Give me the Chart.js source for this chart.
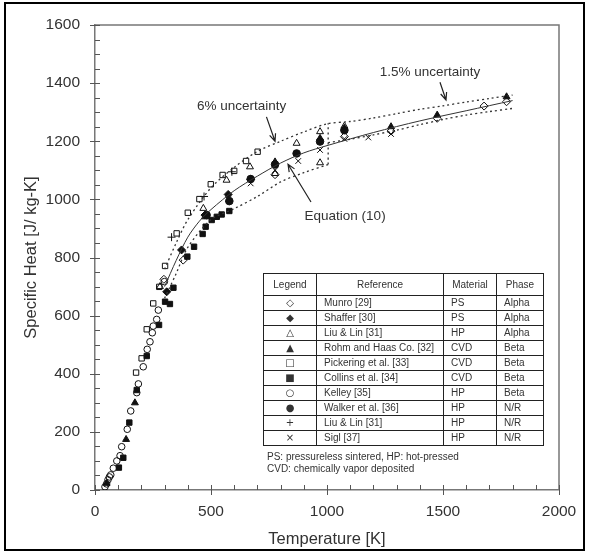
<!DOCTYPE html>
<html>
<head>
<meta charset="utf-8">
<script src="https://cdn.jsdelivr.net/npm/chart.js@4.4.0/dist/chart.umd.min.js"></script>
<style>
html, body { margin: 0; padding: 0; background: #fff; }
#wrap { position: relative; width: 589px; height: 554px; font-family: "Liberation Sans", Arial, sans-serif; }
#frame { position: absolute; left: 4px; top: 2px; width: 577px; height: 545px; border: 2px solid #000; }
#cv { position: absolute; left: 0; top: 0; }
#legendTable { position: absolute; left: 263px; top: 273px; border-collapse: collapse; font-size: 10px; color: #333; border: 1.5px solid #222; }
#legendTable td, #legendTable th { border: 1px solid #222; padding: 0 7px; height: 14px; line-height: 14px; font-weight: normal; white-space: nowrap; }
#legendTable th { height: 21px; text-align: center; }
#legendTable td.sym { text-align: center; font-family: "DejaVu Sans", sans-serif; font-size: 10px; }
#notes { position: absolute; left: 267px; top: 451px; font-size: 10px; color: #333; line-height: 12px; }
</style>
</head>
<body>
<div id="wrap">
  <canvas id="cv" width="589" height="554"></canvas>
  <div id="frame"></div>
  <table id="legendTable"></table>
  <div id="notes">PS: pressureless sintered, HP: hot-pressed<br>CVD: chemically vapor deposited</div>
</div>
<script>
// data (T in K, cp in J/kg-K)
const munroT = [297, 380, 776, 1075, 1276, 1475, 1677, 1774];
const munroCp = [725, 791, 1085, 1216, 1235, 1279, 1321, 1336];

const shafferT = [309, 373, 474, 574, 671];
const shafferCp = [682, 826, 946, 1017, 1069];

const liuAlphaT = [280, 467, 567, 668, 776, 869, 970, 970, 1075];
const liuAlphaCp = [700, 969, 1066, 1112, 1089, 1193, 1233, 1126, 1252];

const rohmT = [50, 134, 172, 474, 776, 970, 1075, 1276, 1475, 1774];
const rohmCp = [23, 174, 300, 940, 1129, 1210, 1245, 1250, 1290, 1353];

const pickeringT = [177, 201, 223, 251, 277, 302, 352, 400, 450, 499, 550, 600, 651, 701];
const pickeringCp = [404, 453, 553, 642, 699, 771, 883, 954, 1001, 1052, 1084, 1098, 1132, 1164];

const collinsT = [103, 122, 148, 180, 223, 276, 302, 323, 338, 398, 427, 464, 477, 503, 525, 546, 579];
const collinsCp = [77, 111, 232, 344, 461, 568, 648, 640, 696, 803, 837, 881, 906, 929, 940, 948, 960];

const kelleyT = [43, 50, 56, 62, 68, 79, 94, 108, 115, 139, 154, 180, 187, 208, 225, 237, 247, 251, 266, 273, 299];
const kelleyCp = [11, 21, 35, 45, 52, 75, 100, 118, 149, 209, 272, 335, 365, 424, 484, 510, 541, 564, 587, 619, 717];

const walkerT = [481, 579, 671, 776, 869, 970, 1075];
const walkerCp = [946, 994, 1070, 1120, 1158, 1199, 1238];

const liuNrT = [330, 470, 590];
const liuNrCp = [870, 1010, 1095];

const siglT = [574, 671, 776, 876, 970, 1075, 1178, 1276];
const siglCp = [1001, 1055, 1100, 1132, 1170, 1208, 1213, 1225];

// Equation (10) and the uncertainty bands, as drawn
const eqT = [300, 350, 400, 450, 500, 600, 700, 800, 900, 1000, 1200, 1400, 1600, 1800];
const eqCp = [700, 790, 870, 925, 965, 1030, 1080, 1125, 1160, 1185, 1230, 1270, 1305, 1340];

const upperT = [300, 350, 400, 500, 600, 700, 800, 900, 1000, 1100, 1200, 1300, 1400, 1500, 1600, 1700, 1800];
const upperCp = [760, 850, 930, 1040, 1110, 1165, 1200, 1232, 1260, 1268, 1280, 1295, 1310, 1322, 1335, 1347, 1359];

const lower6T = [300, 350, 400, 500, 600, 700, 800, 900, 1005];
const lower6Cp = [660, 745, 835, 930, 968, 1010, 1060, 1092, 1120];

const boxT = [1005, 1005];
const boxCp = [1120, 1262];

const lower15T = [1005, 1100, 1200, 1300, 1400, 1500, 1600, 1700, 1800];
const lower15Cp = [1195, 1207, 1222, 1238, 1257, 1275, 1290, 1302, 1313];

const legendRows = [
  ['\u25C7', 'Munro [29]', 'PS', 'Alpha'],
  ['\u25C6', 'Shaffer [30]', 'PS', 'Alpha'],
  ['\u25B3', 'Liu & Lin [31]', 'HP', 'Alpha'],
  ['\u25B2', 'Rohm and Haas Co. [32]', 'CVD', 'Beta'],
  ['\u25A1', 'Pickering et al. [33]', 'CVD', 'Beta'],
  ['\u25A0', 'Collins et al. [34]', 'CVD', 'Beta'],
  ['\u25CB', 'Kelley [35]', 'HP', 'Beta'],
  ['\u25CF', 'Walker et al. [36]', 'HP', 'N/R'],
  ['+', 'Liu & Lin [31]', 'HP', 'N/R'],
  ['\u00D7', 'Sigl [37]', 'HP', 'N/R']
];

// annotations in data units: text, text position, arrow from -> to
const notes = [
  { text: '6% uncertainty', x: 632, y: 1321, from: [739, 1284], to: [776, 1200] },
  { text: '1.5% uncertainty', x: 1444, y: 1439, from: [1487, 1403], to: [1513, 1342] },
  { text: 'Equation (10)', x: 1078, y: 943, from: [931, 991], to: [832, 1121] }
];

function pts(xs, ys) {
  return xs.map((x, i) => ({ x: x, y: ys[i] }));
}

function marks(data, style, filled, radius) {
  return {
    data: data,
    showLine: false,
    pointStyle: style,
    pointRadius: radius,
    pointBorderWidth: 1,
    borderColor: '#111',
    backgroundColor: filled ? '#111' : 'rgba(0,0,0,0)',
    pointBorderColor: '#111',
    pointBackgroundColor: filled ? '#111' : 'rgba(0,0,0,0)'
  };
}

function curve(data, dashed) {
  return {
    data: data,
    showLine: true,
    pointRadius: 0,
    borderColor: '#333',
    borderWidth: dashed ? 1.3 : 1,
    borderDash: dashed ? [2, 3] : [],
    tension: 0.3
  };
}

// build the legend table
const tbl = document.getElementById('legendTable');
let html = '<tr><th style="width:38px">Legend</th><th style="width:112px">Reference</th><th style="width:38px">Material</th><th style="width:32px">Phase</th></tr>';
legendRows.forEach(r => {
  html += '<tr><td class="sym">' + r[0] + '</td><td>' + r[1].replace('&', '&amp;') + '</td><td>' + r[2] + '</td><td>' + r[3] + '</td></tr>';
});
tbl.innerHTML = html;

// inward tick marks, top/right frame, annotations
const extras = {
  id: 'extras',
  beforeDatasetsDraw(chart) {
    const ctx = chart.ctx;
    const a = chart.chartArea;
    const xs = chart.scales.x, ys = chart.scales.y;
    ctx.save();
    ctx.strokeStyle = '#777';
    ctx.lineWidth = 1.5;
    ctx.beginPath();
    ctx.moveTo(a.left, a.top);
    ctx.lineTo(a.right, a.top);
    ctx.lineTo(a.right, a.bottom);
    ctx.stroke();
    ctx.lineWidth = 1;
    ctx.strokeStyle = '#555';
    ctx.beginPath();
    for (let v = xs.min; v <= xs.max; v += 100) {
      const px = Math.round(xs.getPixelForValue(v)) + 0.5;
      const major = v % 500 === 0;
      ctx.moveTo(px, a.bottom - 5);
      ctx.lineTo(px, major ? a.bottom + 5 : a.bottom);
    }
    for (let v = ys.min; v <= ys.max; v += 50) {
      const py = Math.round(ys.getPixelForValue(v)) + 0.5;
      const major = v % 200 === 0;
      ctx.moveTo(major ? a.left - 5 : a.left, py);
      ctx.lineTo(a.left + 5, py);
    }
    ctx.stroke();
    ctx.restore();
  },
  afterDatasetsDraw(chart) {
    const ctx = chart.ctx;
    const xs = chart.scales.x, ys = chart.scales.y;
    ctx.save();
    ctx.fillStyle = '#333';
    ctx.strokeStyle = '#222';
    ctx.lineWidth = 1.2;
    ctx.font = '13.5px "Liberation Sans", Arial, sans-serif';
    ctx.textAlign = 'center';
    ctx.textBaseline = 'middle';
    notes.forEach(n => {
      ctx.fillText(n.text, xs.getPixelForValue(n.x), ys.getPixelForValue(n.y));
      const x1 = xs.getPixelForValue(n.from[0]), y1 = ys.getPixelForValue(n.from[1]);
      const x2 = xs.getPixelForValue(n.to[0]), y2 = ys.getPixelForValue(n.to[1]);
      const ang = Math.atan2(y2 - y1, x2 - x1);
      ctx.beginPath();
      ctx.moveTo(x1, y1);
      ctx.lineTo(x2, y2);
      ctx.moveTo(x2 - 8 * Math.cos(ang - 0.4), y2 - 8 * Math.sin(ang - 0.4));
      ctx.lineTo(x2, y2);
      ctx.lineTo(x2 - 8 * Math.cos(ang + 0.4), y2 - 8 * Math.sin(ang + 0.4));
      ctx.stroke();
    });
    ctx.restore();
  }
};

const tickFont = { family: '"Liberation Sans", Arial, sans-serif', size: 15.5 };
const titleFont = { family: '"Liberation Sans", Arial, sans-serif', size: 16.5 };

new Chart(document.getElementById('cv'), {
  type: 'scatter',
  data: {
    datasets: [
      curve(pts(eqT, eqCp), false),
      curve(pts(upperT, upperCp), true),
      curve(pts(lower6T, lower6Cp), true),
      curve(pts(boxT, boxCp), true),
      curve(pts(lower15T, lower15Cp), true),
      marks(pts(kelleyT, kelleyCp), 'circle', false, 3.3),
      marks(pts(collinsT, collinsCp), 'rect', true, 3.8),
      marks(pts(pickeringT, pickeringCp), 'rect', false, 3.8),
      marks(pts(liuAlphaT, liuAlphaCp), 'triangle', false, 4),
      marks(pts(munroT, munroCp), 'rectRot', false, 4),
      marks(pts(walkerT, walkerCp), 'circle', true, 3.8),
      marks(pts(shafferT, shafferCp), 'rectRot', true, 4),
      marks(pts(rohmT, rohmCp), 'triangle', true, 4),
      marks(pts(liuNrT, liuNrCp), 'cross', false, 4),
      marks(pts(siglT, siglCp), 'crossRot', false, 4)
    ]
  },
  options: {
    responsive: false,
    animation: false,
    layout: { padding: { left: 0, top: 25, right: 30, bottom: 0 }, autoPadding: false },
    plugins: { legend: { display: false }, tooltip: { enabled: false } },
    scales: {
      x: {
        type: 'linear',
        min: 0, max: 2000,
        grid: { display: false, drawTicks: false },
        border: { display: true, color: '#777', width: 1.5 },
        ticks: { stepSize: 500, padding: 12, color: '#333', font: tickFont, callback: v => String(v) },
        title: { display: true, text: 'Temperature [K]', color: '#333', font: titleFont, padding: { top: 0, bottom: 5 } },
        afterFit(s) { s.height = 64; }
      },
      y: {
        min: 0, max: 1600,
        grid: { display: false, drawTicks: false },
        border: { display: true, color: '#777', width: 1.5 },
        ticks: { stepSize: 200, padding: 15, color: '#333', font: tickFont, callback: v => String(v) },
        title: { display: true, text: 'Specific Heat [J/ kg-K]', color: '#333', font: titleFont, padding: { top: 22, bottom: 0 } },
        afterFit(s) { s.width = 95; }
      }
    }
  },
  plugins: [extras]
});
</script>
</body>
</html>
